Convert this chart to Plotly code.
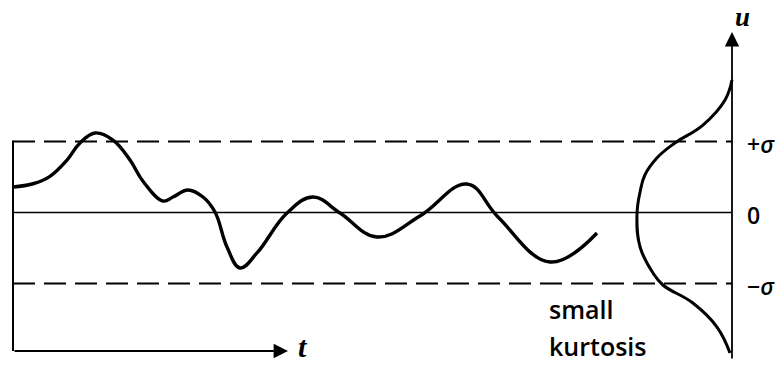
import plotly.graph_objects as go

# ---- data (t in arbitrary time units, u in units of sigma) ----
signal_t = [0, 2.0, 3.7, 5.4, 6.7, 8.2, 10.0, 11.7, 13.0, 15.0, 16.0, 17.5, 19.0, 20.2,
            21.4, 22.7, 24.4, 27.4, 30.0, 32.7, 36.4, 40.7, 45.4,
            48.5, 53.7, 58.4]
signal_u = [0.359, 0.405, 0.510, 0.739, 0.979, 1.120, 1.021, 0.739, 0.440, 0.162, 0.218,
            0.317, 0.218, 0.007, -0.486, -0.782, -0.570, -0.007, 0.218, -0.007, -0.345,
            -0.049, 0.401, -0.063, -0.697, -0.289]

# probability density of u (small kurtosis), drawn leftwards from the u axis
pdf_p = [0, 0.029, 0.121, 0.238, 0.313, 0.363, 0.383, 0.396, 0.383, 0.329,
         0.288, 0.163, 0.0625, 0.0083]
pdf_u = [1.866, 1.585, 1.232, 0.979, 0.768, 0.528, 0.289, -0.035, -0.486, -0.852,
         -1.021, -1.275, -1.613, -1.979]

level_u = [1, 0, -1]
level_text = ["+<i>σ</i>", "0", "−<i>σ</i>"]
level_dash = ["22px,9px", "solid", "22px,9px"]
level_width = [1.8, 1.3, 1.8]

t_end = 71.9          # position of the u axis on the time axis
t_axis_len = 27.5     # length of the t arrow
u_axis_bottom = -2.077
u_axis_top = 2.542
t_axis_u = -1.951
left_axis_top = 1.014

fig = go.Figure()

fig.add_trace(go.Scatter(
    x=signal_t, y=signal_u, mode="lines",
    line=dict(color="black", width=3.4, shape="spline", smoothing=1.15),
    hoverinfo="skip", showlegend=False))

fig.add_trace(go.Scatter(
    x=pdf_p, y=pdf_u, mode="lines", xaxis="x2",
    line=dict(color="black", width=3.0, shape="spline", smoothing=1.2),
    hoverinfo="skip", showlegend=False))

# reference levels
for u, d, w in zip(level_u, level_dash, level_width):
    fig.add_shape(type="line", x0=0, x1=t_end, y0=u, y1=u, xref="x", yref="y",
                  line=dict(color="black", width=w, dash=d))

# left vertical axis
fig.add_shape(type="line", x0=0, x1=0, y0=t_axis_u, y1=left_axis_top,
              xref="x", yref="y", line=dict(color="black", width=2))

annotations = []
# t-axis arrow
annotations.append(dict(x=t_axis_len, y=t_axis_u, ax=0, ay=t_axis_u,
                        xref="x", yref="y", axref="x", ayref="y", text="",
                        showarrow=True, arrowhead=2, arrowsize=1.6, arrowwidth=1.8,
                        arrowcolor="black"))
# u-axis arrow
annotations.append(dict(x=t_end, y=u_axis_top, ax=t_end, ay=u_axis_bottom,
                        xref="x", yref="y", axref="x", ayref="y", text="",
                        showarrow=True, arrowhead=2, arrowsize=1.6, arrowwidth=1.8,
                        arrowcolor="black"))
# axis labels
annotations.append(dict(x=72.9, y=2.993, xref="x", yref="y", yanchor="top",
                        text="<b><i>u</i></b>", showarrow=False,
                        font=dict(family="Liberation Serif", size=27, color="black")))
annotations.append(dict(x=29.0, y=-1.894, xref="x", yref="y", text="<b><i>t</i></b>",
                        showarrow=False,
                        font=dict(family="Liberation Serif", size=30, color="black")))
# level labels
for u, txt in zip(level_u, level_text):
    annotations.append(dict(x=73.2, y=u - 0.03, xref="x", yref="y", text=txt,
                            xanchor="left", showarrow=False,
                            font=dict(family="Open Sans", size=23, color="black", weight=600)))
# caption
annotations.append(dict(x=53.4, y=(212.5 - 309) / 71, xref="x", yref="y", text="small",
                        xanchor="left", showarrow=False,
                        font=dict(family="Open Sans", size=25, color="black", weight=600)))
annotations.append(dict(x=53.4, y=(212.5 - 346) / 71, xref="x", yref="y", text="kurtosis",
                        xanchor="left", showarrow=False,
                        font=dict(family="Open Sans", size=25, color="black", weight=600)))

fig.update_layout(
    width=784, height=367,
    margin=dict(l=0, r=0, t=0, b=0),
    paper_bgcolor="white", plot_bgcolor="white",
    xaxis=dict(range=[-1.3, 77.1], visible=False, fixedrange=True),
    xaxis2=dict(range=[3.05, -0.2167], overlaying="x", visible=False, fixedrange=True),
    yaxis=dict(range=[-2.176, 2.993], visible=False, fixedrange=True),
    annotations=annotations,
    showlegend=False,
)

fig.write_html("out.html")
